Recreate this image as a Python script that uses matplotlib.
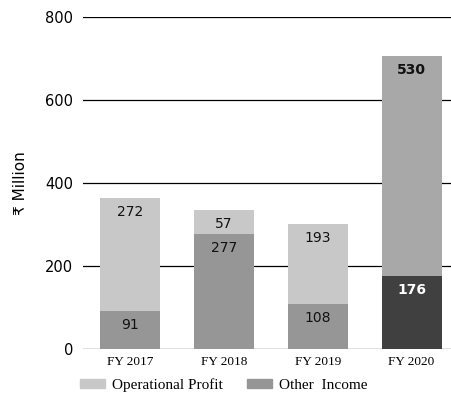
import matplotlib
matplotlib.use("Agg")
import matplotlib.pyplot as plt
from matplotlib.patches import Patch

years = ["FY 2017", "FY 2018", "FY 2019", "FY 2020"]
other_income = [91, 277, 108, 176]
operational_profit = [272, 57, 193, 530]

bottom_colors = ["#969696", "#969696", "#969696", "#404040"]
top_colors = ["#c8c8c8", "#c8c8c8", "#c8c8c8", "#a8a8a8"]
bottom_text = ["#111111", "#111111", "#111111", "#ffffff"]
bold = [False, False, False, True]

sans = ["DejaVu Sans"]
serif = ["Liberation Serif", "DejaVu Serif"]

fig = plt.figure(figsize=(4.51, 3.97), dpi=100)
ax = fig.add_axes([83 / 451, 1 - 349 / 397, 368 / 451, (349 - 17) / 397])

x = list(range(len(years)))
width = 0.64
ax.bar(x, other_income, width, color=bottom_colors, zorder=3)
ax.bar(x, operational_profit, width, bottom=other_income, color=top_colors, zorder=3)

# value labels sit a little below the top of each segment
off = 34
for i in x:
    w = "bold" if bold[i] else "normal"
    ax.text(i, other_income[i] - off, str(other_income[i]), ha="center", va="center",
            fontsize=10, color=bottom_text[i], family=sans, fontweight=w, zorder=4)
    top = other_income[i] + operational_profit[i]
    ax.text(i, top - off, str(operational_profit[i]), ha="center", va="center",
            fontsize=10, color="#111111", family=sans, fontweight=w, zorder=4)

ax.set_ylim(0, 800)
ax.set_xlim(-0.5, 3.42)
ax.set_yticks([0, 200, 400, 600, 800])
ax.yaxis.grid(True, color="black", linewidth=0.9, zorder=0)
ax.set_axisbelow(True)
for s in ax.spines.values():
    s.set_visible(False)
ax.tick_params(axis="both", length=0)
ax.tick_params(axis="y", pad=7)
ax.tick_params(axis="x", pad=5)
ax.set_xticks(x)
ax.set_xticklabels(years, family=serif, fontsize=9.5)
for lbl in ax.get_yticklabels():
    lbl.set_family(sans)
    lbl.set_fontsize(10.5)
ax.set_ylabel("₹ Million", family=sans, fontsize=11, labelpad=12)

handles = [Patch(color="#c8c8c8", label="Operational Profit"),
           Patch(color="#969696", label="Other  Income")]
fig.legend(handles=handles, loc="center", bbox_to_anchor=(224 / 451, 1 - 385 / 397),
           ncol=2, frameon=False, prop={"family": serif, "size": 11},
           handlelength=1.6, handleheight=0.6, columnspacing=1.6, handletextpad=0.5)

fig.savefig("out.png", dpi=100)
